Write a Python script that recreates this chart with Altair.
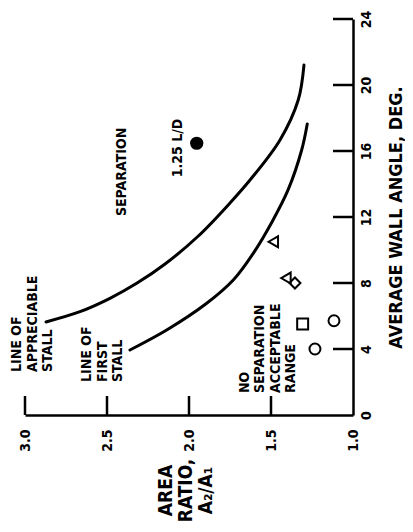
import altair as alt
import pandas as pd

FONT = "Liberation Sans Narrow, DejaVu Sans Condensed, Arial Narrow, sans-serif"

# ---- data ----
ratio_ticks = [3.0, 2.5, 2.0, 1.5, 1.0]
angle_ticks = [0, 4, 8, 12, 16, 20, 24]
ratio_tick_marks = [3.0, 2.5, 2.0, 1.5]
angle_tick_marks = [4, 8, 12, 16, 20, 24]

appreciable_ratio = [2.872, 2.665, 2.482, 2.319, 2.146, 1.943, 1.750, 1.628, 1.445, 1.334, 1.299]
appreciable_angle = [5.64, 6.26, 7.07, 7.98, 9.15, 10.85, 12.85, 14.24, 16.67, 19.09, 21.21]

first_ratio = [2.360, 2.136, 1.892, 1.730, 1.608, 1.494, 1.396, 1.313, 1.279]
first_angle = [3.94, 5.15, 6.77, 8.18, 9.80, 11.70, 13.64, 16.06, 17.64]

marker_ratio = [1.232, 1.116, 1.307, 1.354, 1.409, 1.486]
marker_angle = [4.0, 5.71, 5.52, 8.0, 8.3, 10.5]
marker_shape = ["circle", "circle", "square", "diamond", "triangle-left", "triangle-left"]

filled_ratio = [1.953]
filled_angle = [16.47]

block_text = [["LINE OF", "APPRECIABLE", "STALL"],
              ["LINE OF", "FIRST", "STALL"],
              ["NO", "SEPARATION", "ACCEPTABLE", "RANGE"]]
block_ratio = [3.046, 2.619, 1.659]
block_angle = [2.61, 2.0, 1.33]

label_text = ["SEPARATION", "1.25 L/D"]
label_ratio = [2.409, 2.070]
label_angle = [14.73, 16.18]

# ---- tables ----
curves = pd.DataFrame({
    "curve": ["appreciable"] * len(appreciable_ratio) + ["first"] * len(first_ratio),
    "ratio": appreciable_ratio + first_ratio,
    "angle": appreciable_angle + first_angle,
    "idx": list(range(len(appreciable_ratio))) + list(range(len(first_ratio))),
})
markers = pd.DataFrame({"ratio": marker_ratio, "angle": marker_angle, "shape": marker_shape})
filled = pd.DataFrame({"ratio": filled_ratio, "angle": filled_angle})
blocks = pd.DataFrame({"ratio": block_ratio, "angle": block_angle, "text": block_text})
labels = pd.DataFrame({"ratio": label_ratio, "angle": label_angle, "text": label_text})
rtick = pd.DataFrame({"ratio": ratio_tick_marks})
atick = pd.DataFrame({"angle": angle_tick_marks})

W, H = 328, 396

x_scale = alt.Scale(domain=[1.0, 3.0], reverse=True, nice=False, zero=False)
y_scale = alt.Scale(domain=[0, 24], nice=False, zero=False)

x_axis = alt.Axis(
    orient="bottom", values=ratio_ticks, format=".1f", grid=False, ticks=False, tickSize=0,
    domainColor="black", domainWidth=2.5,
    labelAngle=270, labelAlign="right", labelBaseline="middle", labelPadding=14,
    labelFont=FONT, labelFontSize=14, labelFontWeight="bold", labelColor="black",
    labelFlush=False, labelOverlap=False,
    title=["AREA", "RATIO,", "A₂/A₁"], titleAngle=270, titleAlign="center",
    titleBaseline="middle", titleX=140, titleY=75, titleFont=FONT, titleFontSize=19,
    titleFontWeight="bold", titleColor="black", titleLineHeight=20,
)
y_axis = alt.Axis(
    orient="right", values=angle_ticks, format="d", grid=False, ticks=False, tickSize=0,
    domainColor="black", domainWidth=2.5,
    labelAngle=270, labelAlign="center", labelBaseline="top", labelPadding=6,
    labelFont=FONT, labelFontSize=14, labelFontWeight="bold", labelColor="black",
    labelFlush=False, labelOverlap=False,
    title="AVERAGE WALL ANGLE, DEG.", titleAngle=270, titleAlign="center",
    titleBaseline="middle", titleX=43, titleY=198, titleFont=FONT, titleFontSize=18,
    titleFontWeight="bold", titleColor="black",
)

X = alt.X("ratio:Q", scale=x_scale, axis=x_axis)
Y = alt.Y("angle:Q", scale=y_scale, axis=y_axis)

lines = alt.Chart(curves).mark_line(
    color="black", strokeWidth=3, interpolate="catmull-rom", strokeCap="round"
).encode(x=X, y=Y, detail="curve:N", order="idx:Q")

rt = alt.Chart(rtick).mark_rule(color="black", strokeWidth=2.5).encode(
    x=X, y=alt.value(H), y2=alt.value(H - 19))
at = alt.Chart(atick).mark_rule(color="black", strokeWidth=2.5).encode(
    y=Y, x=alt.value(W), x2=alt.value(W - 20))

pts = alt.Chart(markers).mark_point(
    filled=False, color="black", strokeWidth=2, size=120, opacity=1
).encode(x=X, y=Y, shape=alt.Shape("shape:N", scale=None))

dot = alt.Chart(filled).mark_point(
    filled=True, color="black", shape="circle", size=175, opacity=1
).encode(x=X, y=Y)

blk = alt.Chart(blocks).mark_text(
    angle=270, align="left", baseline="middle", font=FONT, fontSize=14,
    fontWeight="bold", lineHeight=15.5, color="black"
).encode(x=X, y=Y, text="text")

lbl = alt.Chart(labels).mark_text(
    angle=270, align="center", baseline="middle", font=FONT, fontSize=14,
    fontWeight="bold", color="black"
).encode(x=X, y=Y, text="text:N")

chart = alt.layer(rt, at, lines, pts, dot, blk, lbl).properties(
    width=W, height=H,
    autosize=alt.AutoSizeParams(type="none"),
    padding={"left": 17, "top": 11, "right": 52, "bottom": 109},
    background="white",
).configure_view(stroke=None)

chart.save("out.html", embed_options={"renderer": "svg", "actions": False})
